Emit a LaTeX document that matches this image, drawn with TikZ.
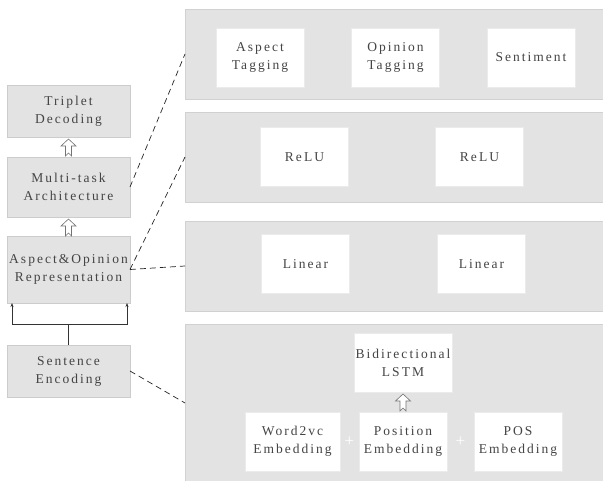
\documentclass[tikz,border=0pt]{standalone}
\usepackage{fontspec}
\setmainfont{Liberation Serif}[LetterSpace=15]
\usetikzlibrary{arrows.meta,calc}
\definecolor{panelgray}{HTML}{E2E3E2}
\definecolor{boxgray}{HTML}{E3E3E3}
\definecolor{txt}{HTML}{444444}
\tikzset{
  lbox/.style={fill=boxgray,draw=boxgray!90!black,line width=0.4pt,inner sep=0,outer sep=0,minimum width=123,text=txt,align=center,font=\fontsize{13.5}{18}\selectfont},
  panel/.style={fill=panelgray,draw=panelgray!92!black,line width=0.4pt,inner sep=0,outer sep=0,minimum width=418,minimum height=90},
  wbox/.style={fill=white,draw=white!92!black,line width=0.4pt,inner sep=0,outer sep=0,minimum width=88,minimum height=59,text=txt,align=center,font=\fontsize{13.5}{18}\selectfont},
  dashline/.style={draw=black!85,line width=0.7pt,dash pattern=on 6pt off 4pt},
  conn/.style={draw=black!80,line width=0.8pt},
  hollowup/.pic={\draw[fill=white,draw=black!55,line width=0.6pt] (0,0) -- (7.5,7) -- (3,7) -- (3,17) -- (0,14) -- (-3,17) -- (-3,7) -- (-7.5,7) -- cycle;},
  plus/.style={text=white,font=\fontsize{17}{17}\selectfont,inner sep=0}
}
\begin{document}
\begin{tikzpicture}[x=1pt,y=-1pt]
\useasboundingbox (0,0) rectangle (603,481);
% left column
\node[lbox,minimum height=52] (td) at (68.5,111) {Triplet\\Decoding};
\node[lbox,minimum height=60] (mt) at (68.5,187) {Multi-task\\Architecture};
\node[lbox,minimum height=67] (ao) at (68.5,269.5) {Aspect\&Opinion\\Representation};
\node[lbox,minimum height=52] (se) at (68.5,371) {Sentence\\Encoding};
\pic at ($(td.south)+(0,2)$) {hollowup};
\pic at ($(mt.south)+(0,2)$) {hollowup};
% sentence encoding -> representation
\draw[conn] (se.north) -- ++(0,-21) coordinate (j);
\draw[conn,-{Stealth[length=4pt,width=3pt]}] (j) -| ($(ao.south west)+(5,0)$);
\draw[conn,-{Stealth[length=4pt,width=3pt]}] (j) -| ($(ao.south east)+(-3,0)$);
% panels
\node[panel] (p1) at (394,54) {};
\node[panel] (p2) at (394,157) {};
\node[panel] (p3) at (394,266) {};
\node[panel,minimum height=158] (p4) at (394,403) {};
% panel 1
\node[wbox] (at) at (260,57.5) {Aspect\\Tagging};
\node[wbox] (ot) at (395.5,57.5) {Opinion\\Tagging};
\node[wbox] (st) at (531,57.5) {Sentiment};
% panel 2
\node[wbox] (r1) at (304.5,157) {ReLU};
\node[wbox] (r2) at (479.5,157) {ReLU};
% panel 3
\node[wbox] (l1) at (305.5,264) {Linear};
\node[wbox] (l2) at (481.5,264) {Linear};
% panel 4
\node[wbox,minimum width=98] (lstm) at (403,362.5) {Bidirectional\\LSTM};
\node[wbox,minimum width=95] (w2v) at (292.5,441.5) {Word2vc\\Embedding};
\node[wbox] (pe) at (403,441.5) {Position\\Embedding};
\node[wbox] (pos) at (518,441.5) {POS\\Embedding};
\node[plus] (pl1) at ($(w2v.east)!0.5!(pe.west)$) {+};
\node[plus] (pl2) at ($(pe.east)!0.5!(pos.west)$) {+};
\pic at ($(lstm.south)+(0,2)$) {hollowup};
% dashed connectors
\draw[dashline] (mt.east) -- (p1.west);
\draw[dashline] (ao.east) -- (p2.west);
\draw[dashline] (ao.east) -- (p3.west);
\draw[dashline] (se.east) -- (p4.west);
\end{tikzpicture}
\end{document}
